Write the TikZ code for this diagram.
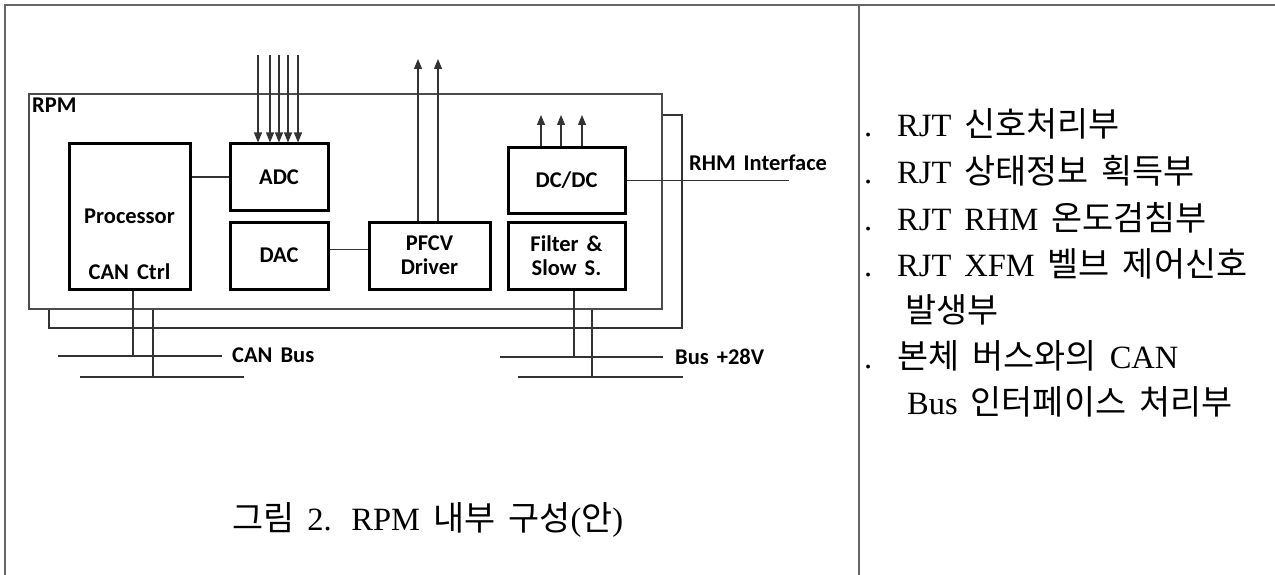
\documentclass[tikz,border=0pt]{standalone}
\usepackage{fontspec}
\setmainfont{Liberation Serif}
\newfontfamily\kr{Noto Sans CJK KR}[Scale=1.04]
\newfontfamily\lb{Carlito}
\usetikzlibrary{arrows.meta}
\newcommand\lblfont{\lb\bfseries\fontsize{22.5}{24}\selectfont\spaceskip=8pt\relax}
\newcommand\txtfont{\fontsize{32.5}{46}\selectfont\spaceskip=13pt plus 2pt\relax}
\begin{document}
\begin{tikzpicture}[x=1pt,y=-1pt,
  wire/.style={draw=black!80,line width=1.2pt},
  framel/.style={draw=black!60,line width=1.5pt},
  blk/.style={draw=black,line width=3pt,inner sep=0pt,align=center,font=\lblfont},
  lbl/.style={inner sep=0pt,font=\lblfont},
  txt/.style={inner sep=0pt,anchor=base west,font=\txtfont},
  arr/.style={wire,-{Triangle[length=10pt,width=8pt]}}]
\useasboundingbox (0,0) rectangle (1275,575);
% outer table frame
\draw[framel] (1275,5) -- (5,5) -- (5,575);
\draw[framel] (859,5) -- (859,575);
% RPM enclosure
\node[draw=black!70,line width=1.3pt,inner sep=0pt,minimum width=633pt,minimum height=215pt] (rpm) at (345.5,201.5) {};
\node[lbl,anchor=base west] (rpmlbl) at (32,113) {RPM};
% blocks
\node[blk,minimum width=121pt,minimum height=145pt] (proc) at (129.5,216.5) {Processor};
\node[lbl] (canctrl) at (129.5,272) {CAN Ctrl};
\node[blk,minimum width=98pt,minimum height=66pt] (adc) at (279,177) {ADC};
\node[blk,minimum width=98pt,minimum height=67pt] (dac) at (279,255.5) {DAC};
\node[blk,minimum width=121pt,minimum height=67pt] (pfcv) at (429.5,255.5) {PFCV\\Driver};
\node[blk,minimum width=117pt,minimum height=65pt] (dcdc) at (566.5,180.5) {DC/DC};
\node[blk,minimum width=117pt,minimum height=67pt] (filt) at (566.5,255.5) {Filter \&\\Slow S.};
% internal links
\draw[wire] (proc.east |- adc.west) -- (adc.west);
\draw[wire] ([yshift=6pt]dac.east) -- ([yshift=6pt]dac.east -| pfcv.west);
% arrows
\foreach \x in {258,270,279,288,298} \draw[arr] (\x,55) -- (\x,55 |- adc.north);
\foreach \x in {418,438} \draw[arr] (\x,0 |- pfcv.north) -- (\x,59);
\foreach \x in {541,561,582} \draw[arr] (\x,0 |- dcdc.north) -- (\x,115);
% RHM interface
\coordinate (rhmend) at (789,181);
\draw[wire] (dcdc.east) -- (dcdc.east -| rhmend);
\node[lbl,anchor=base west] (rhm) at (689,171) {RHM Interface};
% return loop
\coordinate (ret1) at (682,115);
\coordinate (ret2) at (682,328);
\coordinate (ret3) at (49,328);
\draw[wire] (rpm.east |- ret1) -- (ret1) -- (ret2) -- (ret3) -- (ret3 |- rpm.south);
% CAN bus
\coordinate (can1a) at (58,356);
\coordinate (can1b) at (222,356);
\coordinate (can2a) at (80,377);
\coordinate (can2b) at (244,377);
\draw[wire] (133,0 |- proc.south) -- (133,0 |- can1a);
\draw[wire] (153,0 |- rpm.south) -- (153,0 |- can2a);
\draw[wire] (can1a) -- (can1b);
\draw[wire] (can2a) -- (can2b);
\node[lbl,anchor=west] (canbus) at (232,355) {CAN Bus};
% power bus
\coordinate (pw1a) at (500,357);
\coordinate (pw1b) at (663,357);
\coordinate (pw2a) at (518,377);
\coordinate (pw2b) at (683,377);
\draw[wire] (574,0 |- filt.south) -- (574,0 |- pw1a);
\draw[wire] (592,0 |- rpm.south) -- (592,0 |- pw2a);
\draw[wire] (pw1a) -- (pw1b);
\draw[wire] (pw2a) -- (pw2b);
\node[lbl,anchor=west] (bus28) at (675,357) {Bus +28V};
% caption
\node[txt] (cap) at (232,530) {{\kr 그림} 2.\hspace{4pt} RPM {\kr 내부 구성}({\kr 안})};
% right column
\node[txt] (r1) at (864,137) {\makebox[33pt][l]{.}RJT {\kr 신호처리부}};
\node[txt] (r2) at (864,183) {\makebox[33pt][l]{.}RJT {\kr 상태정보 획득부}};
\node[txt] (r3) at (864,230) {\makebox[33pt][l]{.}RJT RHM {\kr 온도검침부}};
\node[txt] (r4) at (864,276) {\makebox[33pt][l]{.}RJT XFM {\kr 벨브 제어신호}};
\node[txt] (r5) at (864,322) {\hspace*{41pt}{\kr 발생부}};
\node[txt] (r6) at (864,368) {\makebox[33pt][l]{.}{\kr 본체 버스와의} CAN};
\node[txt] (r7) at (864,414) {\hspace*{43pt}Bus {\kr 인터페이스 처리부}};
\end{tikzpicture}
\end{document}
